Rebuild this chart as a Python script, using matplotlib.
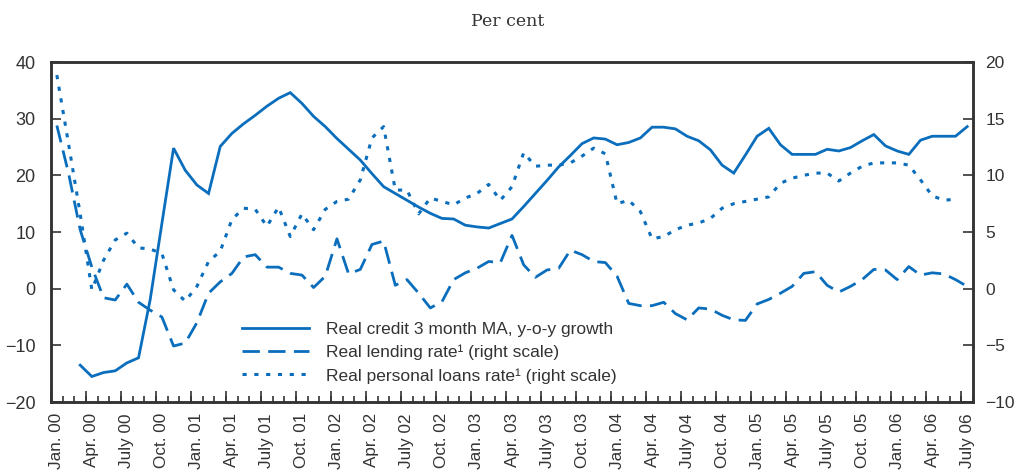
import numpy as np
import matplotlib
matplotlib.use("Agg")
import matplotlib.pyplot as plt

nan = np.nan
months = np.arange(79)  # Jan 2000 .. July 2006

tick_labels = [
    "Jan. 00", "Apr. 00", "July 00", "Oct. 00",
    "Jan. 01", "Apr. 01", "July 01", "Oct. 01",
    "Jan. 02", "Apr. 02", "July 02", "Oct. 02",
    "Jan. 03", "Apr. 03", "July 03", "Oct. 03",
    "Jan. 04", "Apr. 04", "July 04", "Oct. 04",
    "Jan. 05", "Apr. 05", "July 05", "Oct. 05",
    "Jan. 06", "Apr. 06", "July 06",
]

# Real credit 3 month MA, y-o-y growth (left scale)
credit = [
    nan, nan, -13.5, -15.5, -14.8, -14.5, -13.1, -12.2, -1.9, 11.5,
    24.8, 20.9, 18.3, 16.8, 25.1, 27.4, 29.1, 30.6, 32.2, 33.6,
    34.6, 32.7, 30.4, 28.6, 26.5, 24.6, 22.7, 20.3, 18.0, 16.8,
    15.6, 14.4, 13.3, 12.4, 12.3, 11.2, 10.9, 10.7, 11.5, 12.3,
    14.5, 16.8, 19.1, 21.5, 23.5, 25.6, 26.6, 26.4, 25.4, 25.8,
    26.6, 28.5, 28.5, 28.2, 26.9, 26.1, 24.5, 21.8, 20.4, 23.6,
    26.9, 28.3, 25.4, 23.7, 23.7, 23.7, 24.6, 24.3, 24.9, 26.1,
    27.2, 25.2, 24.3, 23.7, 26.2, 26.9, 26.9, 26.9, 28.6,
]

# Real lending rate (right scale)
lending = [
    14.4, 10.2, 5.2, 1.9, -0.8, -1.0, 0.4, -1.2, -1.9, -2.5,
    -5.06, -4.8, -3.0, -0.4, 0.6, 1.35, 2.8, 3.0, 1.9, 1.9,
    1.35, 1.2, 0.1, 1.1, 4.4, 1.3, 1.7, 3.9, 4.2, 0.3,
    0.8, -0.4, -1.7, -1.15, 0.8, 1.4, 1.8, 2.4, 2.3, 4.7,
    2.1, 1.0, 1.65, 1.8, 3.4, 3.0, 2.4, 2.3, 1.1, -1.3,
    -1.5, -1.5, -1.2, -2.2, -2.75, -1.7, -1.8, -2.35, -2.75, -2.8,
    -1.35, -0.95, -0.4, 0.2, 1.35, 1.5, 0.3, -0.3, 0.2, 0.8,
    1.7, 1.65, 0.8, 1.95, 1.2, 1.4, 1.3, 0.8, 0.2,
]

# Real personal loans rate (right scale)
personal = [
    18.85, 12.8, 6.6, -0.1, 2.5, 4.3, 4.9, 3.6, 3.5, 3.1,
    -0.1, -1.1, 0.2, 2.4, 3.3, 6.1, 7.1, 7.0, 5.5, 7.2,
    4.6, 6.6, 5.2, 7.0, 7.7, 7.9, 9.6, 13.3, 14.3, 8.7,
    8.7, 6.6, 8.0, 7.7, 7.4, 8.0, 8.4, 9.2, 7.8, 9.0,
    12.0, 10.8, 10.9, 10.9, 11.1, 11.7, 12.4, 11.9, 7.5, 7.8,
    6.8, 4.4, 4.6, 5.2, 5.6, 5.8, 6.2, 7.1, 7.5, 7.7,
    7.9, 8.1, 9.3, 9.75, 10.0, 10.2, 10.2, 9.5, 10.2, 10.8,
    11.1, 11.1, 11.1, 10.9, 9.6, 8.2, 7.8, 7.9, nan,
]

series_labels = [
    "Real credit 3 month MA, y-o-y growth",
    "Real lending rate\u00b9 (right scale)",
    "Real personal loans rate\u00b9 (right scale)",
]

blue = "#0A6EBD"
dark = "#333333"
sans = ["Liberation Sans", "DejaVu Sans"]

plt.rcParams["lines.scale_dashes"] = False

fig = plt.figure(figsize=(10.16, 4.72), dpi=100)
ax = fig.add_axes([0.0502, 0.1483, 0.9075, 0.7203])
ax2 = ax.twinx()

l1, = ax.plot(months, credit, color=blue, lw=2.0, solid_joinstyle="miter")
l2, = ax2.plot(months, lending, color=blue, lw=2.0, dashes=(12.5, 6))
l3, = ax2.plot(months, personal, color=blue, lw=2.2, dashes=(3, 5.5))

ax.set_xlim(-0.5, 78.5)
ax.set_ylim(-20, 40)
ax2.set_ylim(-10, 20)
ax.set_yticks(np.arange(-20, 41, 10))
ax2.set_yticks(np.arange(-10, 21, 5))

ax.set_xticks(months[::3])
ax.set_xticklabels(tick_labels, rotation=90, fontsize=12.3,
                   family=sans, color=dark)
ax.tick_params(axis="x", which="major", length=0, pad=8)
ax.set_xticks(np.arange(-0.5, 79, 1), minor=True)
ax.tick_params(axis="x", which="minor", direction="in", length=4,
               width=1.2, color=dark)

sec = ax.secondary_xaxis("bottom")
sec.set_xticks(np.arange(-0.5, 79, 3))
sec.tick_params(direction="in", length=8, width=1.2, color=dark,
                labelbottom=False)
sec.spines["bottom"].set_visible(False)

ax.tick_params(axis="y", direction="in", length=7, width=1.2, color=dark,
               pad=11, labelsize=13, labelcolor=dark)
ax2.tick_params(axis="y", direction="in", length=7, width=1.2, color=dark,
                pad=9, labelsize=12.5, labelcolor=dark)
for lab in ax.get_yticklabels() + ax2.get_yticklabels():
    lab.set_family(sans)

for a in (ax, ax2):
    for s in a.spines.values():
        s.set_color(dark)
        s.set_linewidth(1.8)

leg = ax2.legend([l1, l2, l3], series_labels, loc="upper left",
                 bbox_to_anchor=(0.19, 0.282), frameon=False,
                 handlelength=3.85, handletextpad=1.0, labelspacing=0.45,
                 prop={"family": sans, "size": 12.5})
for t in leg.get_texts():
    t.set_color(dark)

fig.text(0.5, 0.955, "Per cent", ha="center", va="center",
         fontsize=12.5, family=["DejaVu Serif"], color=dark)

fig.savefig("out.png", dpi=100)
